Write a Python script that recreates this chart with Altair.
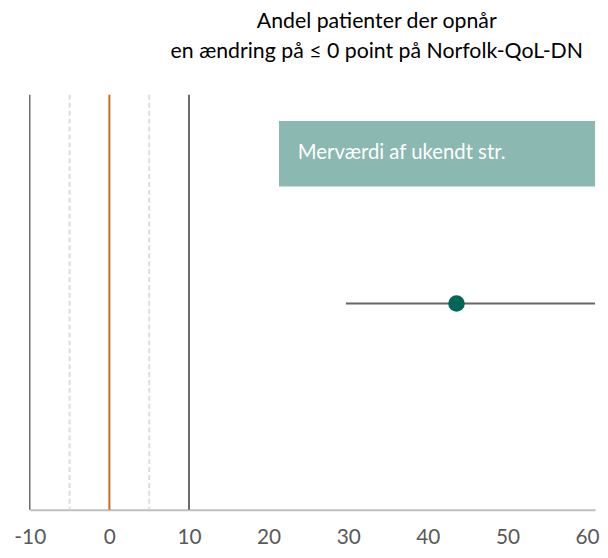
import altair as alt
import pandas as pd

# --- data ---
x_ticks = [-10, 0, 10, 20, 30, 40, 50, 60]
x_domain = [-10, 61]
dark_lines = [-10, 10]
dashed_lines = [-5, 5]
orange_lines = [0]

estimate = [43.6]
ci_low = [29.7]
ci_high = [66.0]
row_pos = [0.497]

box_x1 = [21.3]
box_x2 = [66.0]
box_y1 = [0.779]
box_y2 = [0.937]
box_label = ["Merværdi af ukendt str."]
box_label_y = [0.86]

title_lines = ["Andel patienter der opnår", "en ændring på ≤ 0 point på Norfolk-QoL-DN"]

FONT = "Lato"

xscale = alt.Scale(domain=x_domain, nice=False, zero=False)
yscale = alt.Scale(domain=[0, 1], nice=False, zero=False)

xaxis = alt.Axis(values=x_ticks, title=None, grid=False, ticks=False,
                 domainColor="#bfbfbf", domainWidth=2,
                 labelFont=FONT, labelFontSize=21, labelColor="#595959",
                 labelPadding=17, labelFlush=False,
                 labelExpr="'' + datum.value")

box_df = pd.DataFrame({"x1": box_x1, "x2": box_x2, "y1": box_y1, "y2": box_y2})
box = alt.Chart(box_df).mark_rect(color="#8bb8b0", clip=True).encode(
    x=alt.X("x1:Q", scale=xscale, axis=xaxis),
    x2="x2:Q",
    y=alt.Y("y1:Q", scale=yscale, axis=None),
    y2="y2:Q",
)

label_df = pd.DataFrame({"x": box_x1, "y": box_label_y, "t": box_label})
label = alt.Chart(label_df).mark_text(
    align="left", baseline="middle", dx=19, font=FONT, fontSize=20.5, color="white"
).encode(
    x=alt.X("x:Q", scale=xscale),
    y=alt.Y("y:Q", scale=yscale),
    text="t:N",
)

dark_df = pd.DataFrame({"x": dark_lines, "w": [1.5, 2]})
dark = alt.Chart(dark_df).mark_rule(color="#6b6b6b").encode(
    x=alt.X("x:Q", scale=xscale),
    strokeWidth=alt.StrokeWidth("w:Q", scale=None),
)

dashed = alt.Chart(pd.DataFrame({"x": dashed_lines})).mark_rule(
    color="#dcdcdc", strokeWidth=2, strokeDash=[5, 3]
).encode(x=alt.X("x:Q", scale=xscale))

orange = alt.Chart(pd.DataFrame({"x": orange_lines})).mark_rule(
    color="#cc6a1a", strokeWidth=2
).encode(x=alt.X("x:Q", scale=xscale))

ci_df = pd.DataFrame({"lo": ci_low, "hi": ci_high, "y": row_pos, "est": estimate})
ci = alt.Chart(ci_df).mark_rule(color="#666666", strokeWidth=2, clip=True).encode(
    x=alt.X("lo:Q", scale=xscale),
    x2="hi:Q",
    y=alt.Y("y:Q", scale=yscale),
)
pt = alt.Chart(ci_df).mark_circle(color="#00665a", opacity=1, size=280).encode(
    x=alt.X("est:Q", scale=xscale),
    y=alt.Y("y:Q", scale=yscale),
)

chart = alt.layer(box, label, dashed, dark, orange, ci, pt).properties(
    width=571,
    height=419,
    padding={"left": 5, "right": 0, "top": 0, "bottom": 0},
    title=alt.TitleParams(
        text=title_lines, font=FONT, fontSize=21.5, fontWeight="normal",
        color="#000000", lineHeight=30, anchor="middle", dx=65, offset=32,
    ),
).configure_view(stroke=None)

chart.save("out.html", embed_options={"renderer": "svg", "actions": False})
